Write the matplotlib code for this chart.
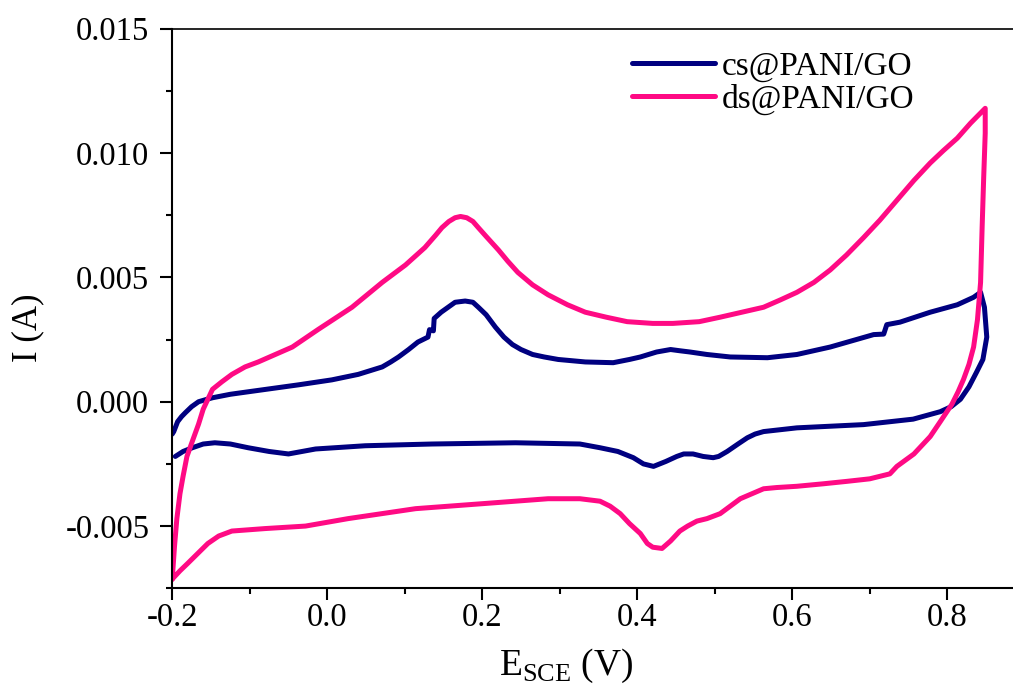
import matplotlib
matplotlib.use('Agg')
import matplotlib.pyplot as plt
from matplotlib.ticker import MultipleLocator

plt.rcParams.update({
    'font.family': 'serif',
    'font.serif': ['Liberation Serif', 'DejaVu Serif'],
    'mathtext.fontset': 'custom',
    'mathtext.rm': 'Liberation Serif',
})

# cs@PANI/GO: closed CV loop, anodic sweep (left->right) then cathodic sweep back
cs_E = [-0.200, -0.198, -0.193, -0.188, -0.183, -0.175, -0.166, -0.155, -0.148, -0.125,
        -0.102, -0.037, 0.006, 0.040, 0.071, 0.082, 0.092, 0.105, 0.117, 0.130,
        0.132, 0.137, 0.138, 0.147, 0.156, 0.165, 0.178, 0.188, 0.195, 0.205,
        0.217, 0.228, 0.239, 0.250, 0.265, 0.280, 0.298, 0.333, 0.369, 0.390,
        0.404, 0.425, 0.443, 0.455, 0.468, 0.490, 0.520, 0.568, 0.606, 0.649,
        0.705, 0.718, 0.722, 0.739, 0.778, 0.813, 0.834, 0.843, 0.848, 0.851,
        0.846, 0.838, 0.828, 0.817, 0.805, 0.791, 0.756, 0.692, 0.606, 0.563,
        0.552, 0.542, 0.530, 0.516, 0.505, 0.498, 0.485, 0.472, 0.460, 0.451,
        0.437, 0.421, 0.408, 0.395, 0.375, 0.352, 0.326, 0.243, 0.135, 0.049,
        -0.015, -0.050, -0.075, -0.102, -0.125, -0.145, -0.160, -0.174, -0.186, -0.196]
cs_I = [-0.00130, -0.00120, -0.00080, -0.00060, -0.00044, -0.00020, 0.00000, 0.00010, 0.00016, 0.00030,
        0.00040, 0.00068, 0.00088, 0.00110, 0.00140, 0.00160, 0.00180, 0.00210, 0.00240, 0.00260,
        0.00290, 0.00285, 0.00335, 0.00360, 0.00380, 0.00400, 0.00405, 0.00400, 0.00380, 0.00350,
        0.00300, 0.00260, 0.00230, 0.00210, 0.00190, 0.00180, 0.00170, 0.00160, 0.00157, 0.00170,
        0.00180, 0.00200, 0.00210, 0.00205, 0.00200, 0.00190, 0.00180, 0.00177, 0.00190, 0.00220,
        0.00270, 0.00272, 0.00310, 0.00320, 0.00360, 0.00390, 0.00420, 0.00440, 0.00380, 0.00260,
        0.00170, 0.00120, 0.00060, 0.00010, -0.00020, -0.00040, -0.00070, -0.00092, -0.00105, -0.00120,
        -0.00130, -0.00145, -0.00170, -0.00200, -0.00220, -0.00225, -0.00220, -0.00210, -0.00210, -0.00220,
        -0.00240, -0.00260, -0.00250, -0.00225, -0.00200, -0.00185, -0.00170, -0.00165, -0.00170, -0.00177,
        -0.00190, -0.00210, -0.00200, -0.00185, -0.00170, -0.00165, -0.00170, -0.00185, -0.00200, -0.00220]

# ds@PANI/GO
ds_E = [-0.200, -0.197, -0.194, -0.190, -0.186, -0.181, -0.173, -0.166, -0.160, -0.148,
        -0.136, -0.123, -0.106, -0.089, -0.045, -0.012, 0.032, 0.071, 0.101, 0.126,
        0.140, 0.148, 0.157, 0.165, 0.172, 0.180, 0.188, 0.195, 0.205, 0.221,
        0.233, 0.246, 0.265, 0.285, 0.310, 0.333, 0.360, 0.387, 0.420, 0.446,
        0.480, 0.507, 0.535, 0.563, 0.585, 0.606, 0.628, 0.649, 0.670, 0.692,
        0.713, 0.735, 0.757, 0.778, 0.795, 0.813, 0.830, 0.849, 0.849, 0.847,
        0.845, 0.843, 0.839, 0.834, 0.828, 0.821, 0.814, 0.806, 0.791, 0.778,
        0.757, 0.735, 0.726, 0.700, 0.671, 0.640, 0.606, 0.580, 0.563, 0.548,
        0.533, 0.520, 0.507, 0.490, 0.477, 0.465, 0.455, 0.443, 0.432, 0.420,
        0.413, 0.404, 0.390, 0.378, 0.365, 0.352, 0.326, 0.285, 0.200, 0.114,
        0.027, -0.028, -0.080, -0.123, -0.140, -0.154, -0.167, -0.180, -0.190, -0.199]
ds_I = [-0.00715, -0.00580, -0.00470, -0.00370, -0.00300, -0.00220, -0.00150, -0.00090, -0.00030, 0.00050,
        0.00080, 0.00110, 0.00140, 0.00160, 0.00220, 0.00290, 0.00380, 0.00480, 0.00550, 0.00620,
        0.00670, 0.00700, 0.00725, 0.00740, 0.00745, 0.00740, 0.00725, 0.00700, 0.00665, 0.00610,
        0.00565, 0.00520, 0.00470, 0.00430, 0.00390, 0.00360, 0.00340, 0.00322, 0.00315, 0.00315,
        0.00322, 0.00340, 0.00360, 0.00380, 0.00410, 0.00440, 0.00480, 0.00530, 0.00590, 0.00660,
        0.00730, 0.00810, 0.00890, 0.00960, 0.01010, 0.01060, 0.01120, 0.01180, 0.01080, 0.00900,
        0.00700, 0.00480, 0.00330, 0.00220, 0.00150, 0.00090, 0.00040, -0.00010, -0.00080, -0.00140,
        -0.00210, -0.00260, -0.00290, -0.00310, -0.00320, -0.00330, -0.00340, -0.00345, -0.00350, -0.00370,
        -0.00390, -0.00420, -0.00450, -0.00470, -0.00480, -0.00500, -0.00520, -0.00560, -0.00590, -0.00585,
        -0.00570, -0.00530, -0.00490, -0.00450, -0.00420, -0.00400, -0.00390, -0.00390, -0.00410, -0.00430,
        -0.00470, -0.00500, -0.00510, -0.00520, -0.00540, -0.00570, -0.00610, -0.00650, -0.00680, -0.00710]

x_ticks = [-0.2, 0.0, 0.2, 0.4, 0.6, 0.8]
x_tick_labels = ['-0.2', '0.0', '0.2', '0.4', '0.6', '0.8']
y_ticks = [-0.005, 0.0, 0.005, 0.010, 0.015]
y_tick_labels = ['-0.005', '0.000', '0.005', '0.010', '0.015']

fig = plt.figure(figsize=(10.13, 6.84), dpi=100)
ax = fig.add_axes([0.170, 0.140, 0.8416, 0.818])

ax.plot(cs_E, cs_I, color='#000080', linewidth=3.6, solid_capstyle='round',
        solid_joinstyle='round', label='cs@PANI/GO')
ax.plot(ds_E, ds_I, color='#FF0A84', linewidth=3.6, solid_capstyle='round',
        solid_joinstyle='round', label='ds@PANI/GO')

ax.set_xlim(-0.2, 0.9)
ax.set_ylim(-0.0075, 0.015)
ax.xaxis.set_minor_locator(MultipleLocator(0.1))
ax.yaxis.set_minor_locator(MultipleLocator(0.0025))
ax.set_xticks(x_ticks)
ax.set_xticklabels(x_tick_labels)
ax.set_yticks(y_ticks)
ax.set_yticklabels(y_tick_labels)

ax.tick_params(which='major', direction='out', length=8.5, width=1.5, labelsize=23.5)
ax.tick_params(axis='x', which='major', pad=2)
ax.tick_params(axis='y', which='major', pad=8)
ax.tick_params(which='minor', direction='out', length=4.5, width=1.5)
ax.tick_params(top=False, right=False, which='both')
for s in ['left', 'bottom']:
    ax.spines[s].set_linewidth(1.5)
ax.spines['top'].set_linewidth(1.2)
ax.spines['right'].set_visible(False)

ax.set_xlabel(r'E$_{\mathrm{SCE}}$ (V)', fontsize=27)
ax.xaxis.set_label_coords(0.462, -0.105)
ax.set_ylabel('I (A)', fontsize=25)
ax.yaxis.set_label_coords(-0.150, 0.465)

fig.legend(loc='upper left', bbox_to_anchor=(0.607, 0.950), frameon=False,
           fontsize=24, handlelength=2.5, handletextpad=0.2, labelspacing=0.05,
           borderpad=0)

fig.savefig('out.png', dpi=100)
